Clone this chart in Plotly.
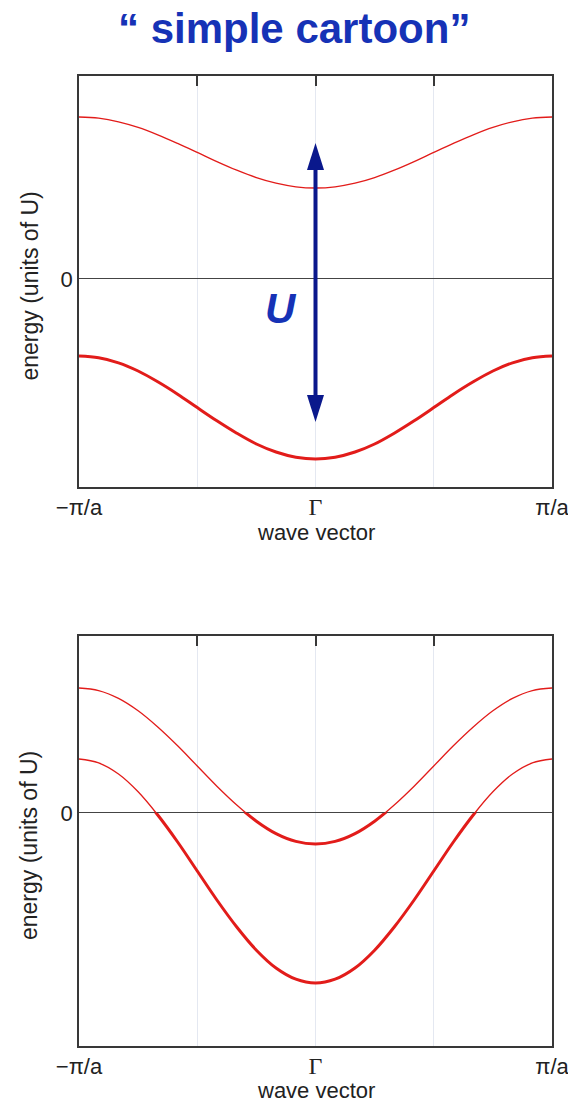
import plotly.graph_objects as go

# ---- data -------------------------------------------------------------
# wave vector in units of pi/a
wave_k = [-1, -0.917, -0.833, -0.75, -0.667, -0.583, -0.5, -0.417, -0.333,
          -0.25, -0.167, -0.083, 0, 0.083, 0.167, 0.25, 0.333, 0.417, 0.5,
          0.583, 0.667, 0.75, 0.833, 0.917, 1]

# upper panel: two bands split by U
top_upper = [0.81, 0.804, 0.786, 0.758, 0.721, 0.678, 0.633, 0.587, 0.544,
             0.507, 0.479, 0.461, 0.455, 0.461, 0.479, 0.507, 0.544, 0.587,
             0.633, 0.678, 0.721, 0.758, 0.786, 0.804, 0.81]
top_lower = [-0.385, -0.394, -0.419, -0.46, -0.514, -0.576, -0.643, -0.709,
             -0.771, -0.825, -0.865, -0.891, -0.90, -0.891, -0.865, -0.825,
             -0.771, -0.709, -0.643, -0.576, -0.514, -0.46, -0.419, -0.394,
             -0.385]

# lower panel: overlapping bands crossing zero
bot_upper = [0.625, 0.612, 0.573, 0.511, 0.43, 0.336, 0.235, 0.134, 0.04,
             -0.041, -0.103, -0.142, -0.155, -0.142, -0.103, -0.041, 0.04,
             0.134, 0.235, 0.336, 0.43, 0.511, 0.573, 0.612, 0.625]
bot_lower = [0.27, 0.251, 0.195, 0.106, -0.01, -0.145, -0.29, -0.435, -0.57,
             -0.686, -0.775, -0.831, -0.85, -0.831, -0.775, -0.686, -0.57,
             -0.435, -0.29, -0.145, -0.01, 0.106, 0.195, 0.251, 0.27]

k_tickvals = [-1, -0.5, 0, 0.5, 1]
k_ticktext = ["\u2212\u03c0/a", "",
              "<span style='font-family:Liberation Serif;font-size:24px'>\u0393</span>",
              "", "\u03c0/a"]

# gap arrow (energy of the two tips) and its label
gap_tips = [0.68, -0.715]

# ---- style / geometry -------------------------------------------------
W, H = 568, 1102
X0, X1 = 79, 552
RED = "rgb(226,28,26)"
FRAME = "#383838"
BLUE = "rgb(22,50,182)"
NAVY = "rgb(10,24,140)"
FONT = "Liberation Sans"
TXT = "#222"

panels = [
    dict(top=76, bottom=487, yrange=[-1.04, 1.015], bands=[top_upper, top_lower],
         title_gap=45),
    dict(top=636, bottom=1046, yrange=[-1.165, 0.885], bands=[bot_upper, bot_lower],
         title_gap=44),
]

fig = go.Figure()
layout = dict(
    width=W, height=H,
    margin=dict(l=0, r=0, t=0, b=0, pad=0, autoexpand=False),
    paper_bgcolor="white", plot_bgcolor="white",
    showlegend=False,
    font=dict(family=FONT, color=TXT),
)
annotations = []
shapes = []


def py(px):
    """pixel row -> paper fraction"""
    return 1 - px / H


for i, p in enumerate(panels):
    n = i + 1
    xa = "x" if n == 1 else f"x{n}"
    ya = "y" if n == 1 else f"y{n}"
    clip_n = n + 2
    yc = f"y{clip_n}"
    ymin, ymax = p["yrange"]
    d0, d1 = py(p["bottom"]), py(p["top"])
    zero_frac = d0 + (d1 - d0) * (0 - ymin) / (ymax - ymin)

    layout["xaxis" if n == 1 else f"xaxis{n}"] = dict(
        domain=[X0 / W, X1 / W], range=[-1, 1], anchor=ya, automargin=False,
        showline=True, linecolor=FRAME, linewidth=1.5, mirror="ticks",
        ticks="inside", ticklen=10, tickwidth=1.5, tickcolor=FRAME,
        tickvals=k_tickvals, ticktext=k_ticktext, ticklabeloverflow="allow",
        tickfont=dict(size=22, color=TXT),
        showgrid=True, gridcolor="#e4e8f1", gridwidth=1, zeroline=False,
        fixedrange=True,
    )
    layout["yaxis" if n == 1 else f"yaxis{n}"] = dict(
        domain=[d0, d1], range=p["yrange"], anchor=xa, automargin=False,
        showline=True, linecolor=FRAME, linewidth=1.5, mirror=True,
        ticks="", tickvals=[0], ticktext=["0"], ticklabeloverflow="allow",
        tickfont=dict(size=22, color=TXT),
        showgrid=False, zeroline=True, zerolinecolor="#444", zerolinewidth=1.7,
        fixedrange=True,
    )
    # hidden axis covering only the negative-energy part: thick (filled) states
    layout[f"yaxis{clip_n}"] = dict(
        domain=[d0, zero_frac], range=[ymin, 0], anchor=xa, visible=False,
        automargin=False, fixedrange=True,
    )

    for band in p["bands"]:
        fig.add_trace(go.Scatter(
            x=wave_k, y=band, xaxis=xa, yaxis=ya, mode="lines",
            line=dict(color=RED, width=1.3, shape="spline"), hoverinfo="skip",
        ))
        fig.add_trace(go.Scatter(
            x=wave_k, y=band, xaxis=xa, yaxis=yc, mode="lines",
            line=dict(color=RED, width=3, shape="spline"), hoverinfo="skip",
        ))

    # axis titles
    annotations.append(dict(
        text="energy (units of U)", textangle=-90, xref="paper", yref="paper",
        x=29 / W, y=py((p["top"] + p["bottom"]) / 2 + 5),
        xanchor="center", yanchor="middle",
        showarrow=False, font=dict(size=23, color=TXT, family=FONT),
    ))
    annotations.append(dict(
        text="wave vector", xref="paper", yref="paper",
        x=(X0 + X1) / 2 / W, y=py(p["bottom"] + p["title_gap"]), xanchor="center",
        yanchor="middle", showarrow=False,
        font=dict(size=22, color=TXT, family=FONT),
    ))

# title
annotations.append(dict(
    text="<b>\u201c simple cartoon\u201d</b>", xref="paper", yref="paper",
    x=294 / W, y=py(29), xanchor="center", yanchor="middle", showarrow=False,
    font=dict(size=42, color=BLUE, family=FONT),
))

# U gap arrow in the upper panel
head_len = 27 / 200        # energy units
head_half = 8.5 / 236.5    # k units
top_tip, bot_tip = gap_tips
shapes.append(dict(type="line", xref="x", yref="y", x0=0, x1=0,
                   y0=bot_tip + head_len * 0.9, y1=top_tip - head_len * 0.9,
                   line=dict(color=NAVY, width=4)))
shapes.append(dict(type="path", xref="x", yref="y",
                   path=f"M 0,{top_tip} L {-head_half},{top_tip - head_len} L {head_half},{top_tip - head_len} Z",
                   fillcolor=NAVY, line=dict(color=NAVY, width=0)))
shapes.append(dict(type="path", xref="x", yref="y",
                   path=f"M 0,{bot_tip} L {-head_half},{bot_tip + head_len} L {head_half},{bot_tip + head_len} Z",
                   fillcolor=NAVY, line=dict(color=NAVY, width=0)))
annotations.append(dict(
    text="<b><i>U</i></b>", xref="x", yref="y", x=-0.148, y=-0.145,
    xanchor="center", yanchor="middle",
    showarrow=False, font=dict(size=42, color=BLUE, family=FONT),
))

layout["annotations"] = annotations
layout["shapes"] = shapes
fig.update_layout(**layout)

fig.write_html("out.html")
